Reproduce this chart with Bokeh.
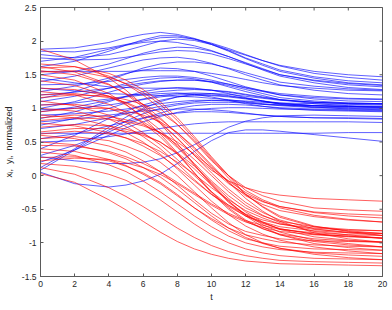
import math
from bokeh.plotting import figure
from bokeh.models import ColumnDataSource, FixedTicker, Range1d
from bokeh.embed import file_html
from bokeh.resources import INLINE

t_grid = [0, 2, 4, 5, 6, 7, 8, 9, 10, 11, 12, 13, 14, 16, 18, 20]

# blue trajectories (x_i, normalized)
blue_curves = [
    [1.88, 1.90, 1.98, 2.05, 2.10, 2.13, 2.10, 2.04, 1.96, 1.87, 1.79, 1.71, 1.64, 1.55, 1.50, 1.47],
    [1.85, 1.84, 1.90, 1.95, 2.00, 2.05, 2.06, 2.03, 1.97, 1.89, 1.80, 1.71, 1.63, 1.52, 1.46, 1.42],
    [1.80, 1.75, 1.80, 1.86, 1.93, 2.00, 2.03, 2.01, 1.95, 1.86, 1.75, 1.66, 1.57, 1.47, 1.41, 1.38],
    [1.62, 1.70, 1.85, 1.94, 2.02, 2.08, 2.08, 2.03, 1.95, 1.85, 1.74, 1.64, 1.55, 1.45, 1.38, 1.35],
    [1.75, 1.72, 1.73, 1.76, 1.80, 1.84, 1.86, 1.85, 1.81, 1.74, 1.66, 1.58, 1.50, 1.41, 1.35, 1.32],
    [1.50, 1.55, 1.66, 1.74, 1.82, 1.88, 1.91, 1.90, 1.85, 1.77, 1.67, 1.57, 1.48, 1.38, 1.31, 1.28],
    [1.55, 1.55, 1.55, 1.55, 1.56, 1.56, 1.56, 1.55, 1.52, 1.48, 1.43, 1.38, 1.34, 1.30, 1.27, 1.26],
    [1.40, 1.48, 1.60, 1.66, 1.72, 1.75, 1.76, 1.73, 1.67, 1.59, 1.50, 1.42, 1.35, 1.27, 1.22, 1.20],
    [1.35, 1.36, 1.40, 1.43, 1.46, 1.48, 1.48, 1.46, 1.42, 1.36, 1.30, 1.25, 1.20, 1.16, 1.14, 1.13],
    [1.25, 1.33, 1.45, 1.52, 1.57, 1.60, 1.59, 1.55, 1.48, 1.40, 1.32, 1.26, 1.20, 1.14, 1.11, 1.10],
    [1.45, 1.38, 1.32, 1.31, 1.30, 1.30, 1.30, 1.29, 1.27, 1.24, 1.20, 1.16, 1.13, 1.09, 1.07, 1.06],
    [1.20, 1.24, 1.30, 1.34, 1.38, 1.41, 1.42, 1.42, 1.40, 1.36, 1.31, 1.26, 1.22, 1.18, 1.15, 1.14],
    [1.10, 1.18, 1.30, 1.37, 1.42, 1.45, 1.46, 1.44, 1.39, 1.32, 1.25, 1.19, 1.13, 1.07, 1.04, 1.03],
    [1.05, 1.08, 1.14, 1.18, 1.22, 1.25, 1.27, 1.28, 1.27, 1.25, 1.21, 1.17, 1.13, 1.09, 1.07, 1.07],
    [1.00, 1.10, 1.24, 1.31, 1.36, 1.40, 1.42, 1.42, 1.39, 1.34, 1.28, 1.22, 1.16, 1.11, 1.08, 1.07],
    [0.98, 1.00, 1.05, 1.09, 1.13, 1.17, 1.20, 1.21, 1.20, 1.18, 1.15, 1.11, 1.08, 1.04, 1.02, 1.01],
    [0.95, 1.02, 1.12, 1.17, 1.20, 1.22, 1.23, 1.21, 1.17, 1.12, 1.07, 1.03, 1.00, 0.97, 0.96, 0.95],
    [0.90, 0.92, 0.96, 0.99, 1.03, 1.07, 1.10, 1.12, 1.12, 1.11, 1.09, 1.06, 1.04, 1.01, 1.00, 0.99],
    [0.85, 0.95, 1.10, 1.18, 1.25, 1.29, 1.31, 1.30, 1.27, 1.22, 1.16, 1.11, 1.06, 1.02, 0.99, 0.98],
    [0.80, 0.84, 0.90, 0.93, 0.96, 0.98, 0.99, 0.99, 0.98, 0.96, 0.93, 0.90, 0.88, 0.86, 0.86, 0.85],
    [0.75, 0.85, 1.00, 1.08, 1.14, 1.19, 1.22, 1.23, 1.22, 1.19, 1.15, 1.11, 1.07, 1.04, 1.03, 1.02],
    [0.63, 0.63, 0.63, 0.63, 0.63, 0.63, 0.63, 0.63, 0.63, 0.63, 0.63, 0.63, 0.63, 0.63, 0.64, 0.64],
    [0.55, 0.62, 0.74, 0.80, 0.86, 0.90, 0.93, 0.95, 0.95, 0.94, 0.92, 0.90, 0.88, 0.86, 0.85, 0.84],
    [0.40, 0.60, 0.85, 0.96, 1.05, 1.12, 1.17, 1.19, 1.19, 1.17, 1.14, 1.10, 1.07, 1.04, 1.03, 1.02],
    [0.30, 0.45, 0.65, 0.76, 0.85, 0.93, 1.00, 1.04, 1.06, 1.06, 1.05, 1.03, 1.01, 0.99, 0.98, 0.97],
    [0.08, 0.38, 0.68, 0.81, 0.92, 1.00, 1.05, 1.08, 1.09, 1.09, 1.08, 1.06, 1.05, 1.04, 1.03, 1.02],
    [0.12, 0.40, 0.72, 0.87, 1.00, 1.10, 1.17, 1.21, 1.22, 1.21, 1.18, 1.15, 1.12, 1.09, 1.08, 1.07],
    [0.20, 0.38, 0.60, 0.71, 0.80, 0.88, 0.94, 0.98, 1.00, 1.01, 1.01, 1.00, 0.99, 0.98, 0.97, 0.96],
    [0.28, 0.22, 0.18, 0.18, 0.20, 0.25, 0.34, 0.46, 0.59, 0.72, 0.81, 0.86, 0.89, 0.90, 0.89, 0.88],
    [0.05, -0.12, -0.17, -0.14, -0.08, 0.02, 0.18, 0.36, 0.52, 0.64, 0.68, 0.68, 0.66, 0.61, 0.56, 0.51],
    [1.30, 1.26, 1.22, 1.21, 1.20, 1.19, 1.18, 1.17, 1.15, 1.13, 1.10, 1.07, 1.05, 1.02, 1.01, 1.00],
    [0.70, 0.76, 0.86, 0.92, 0.98, 1.03, 1.07, 1.10, 1.12, 1.12, 1.11, 1.09, 1.08, 1.07, 1.06, 1.05],
    [1.15, 1.25, 1.42, 1.51, 1.60, 1.66, 1.69, 1.69, 1.66, 1.60, 1.53, 1.46, 1.39, 1.33, 1.29, 1.27],
    [0.50, 0.52, 0.58, 0.62, 0.66, 0.70, 0.74, 0.77, 0.79, 0.80, 0.80, 0.80, 0.80, 0.80, 0.80, 0.79],
    [1.70, 1.76, 1.88, 1.94, 1.98, 2.00, 1.98, 1.93, 1.86, 1.77, 1.68, 1.59, 1.50, 1.42, 1.37, 1.34],
]

# red trajectories (y_i, normalized)
red_curves = [
    [1.88, 1.72, 1.45, 1.27, 1.05, 0.80, 0.55, 0.30, 0.08, -0.08, -0.18, -0.25, -0.29, -0.34, -0.36, -0.38],
    [1.66, 1.62, 1.48, 1.36, 1.20, 1.00, 0.76, 0.50, 0.22, 0.00, -0.18, -0.30, -0.38, -0.48, -0.51, -0.53],
    [1.56, 1.50, 1.35, 1.22, 1.06, 0.86, 0.62, 0.36, 0.10, -0.12, -0.28, -0.39, -0.46, -0.54, -0.57, -0.59],
    [1.54, 1.56, 1.46, 1.37, 1.24, 1.06, 0.82, 0.55, 0.26, 0.00, -0.22, -0.36, -0.46, -0.55, -0.60, -0.63],
    [0.82, 0.86, 0.84, 0.80, 0.74, 0.64, 0.50, 0.32, 0.12, -0.08, -0.25, -0.38, -0.48, -0.59, -0.65, -0.69],
    [1.41, 1.34, 1.18, 1.05, 0.88, 0.68, 0.44, 0.18, -0.08, -0.30, -0.48, -0.60, -0.68, -0.76, -0.80, -0.82],
    [1.60, 1.62, 1.52, 1.42, 1.28, 1.10, 0.86, 0.58, 0.28, 0.00, -0.28, -0.47, -0.62, -0.76, -0.82, -0.86],
    [1.00, 0.96, 0.84, 0.73, 0.58, 0.40, 0.18, -0.06, -0.28, -0.46, -0.60, -0.69, -0.76, -0.82, -0.85, -0.86],
    [0.62, 0.66, 0.62, 0.56, 0.48, 0.36, 0.20, 0.02, -0.18, -0.36, -0.52, -0.63, -0.72, -0.80, -0.84, -0.86],
    [1.30, 1.28, 1.18, 1.08, 0.95, 0.78, 0.56, 0.30, 0.04, -0.20, -0.40, -0.55, -0.66, -0.79, -0.85, -0.89],
    [0.45, 0.44, 0.36, 0.28, 0.18, 0.06, -0.10, -0.26, -0.42, -0.56, -0.67, -0.74, -0.80, -0.85, -0.88, -0.89],
    [1.16, 1.20, 1.18, 1.13, 1.06, 0.94, 0.76, 0.52, 0.24, -0.04, -0.28, -0.46, -0.60, -0.75, -0.83, -0.89],
    [1.11, 1.04, 0.90, 0.79, 0.64, 0.46, 0.24, 0.00, -0.24, -0.44, -0.60, -0.71, -0.79, -0.87, -0.90, -0.93],
    [0.86, 0.90, 0.88, 0.83, 0.76, 0.64, 0.46, 0.24, 0.00, -0.24, -0.44, -0.59, -0.70, -0.83, -0.88, -0.93],
    [1.62, 1.54, 1.36, 1.21, 1.02, 0.78, 0.48, 0.16, -0.14, -0.40, -0.58, -0.70, -0.79, -0.87, -0.90, -0.93],
    [0.60, 0.55, 0.44, 0.35, 0.22, 0.06, -0.14, -0.36, -0.56, -0.72, -0.83, -0.89, -0.94, -0.97, -0.98, -0.99],
    [1.50, 1.42, 1.22, 1.06, 0.86, 0.62, 0.34, 0.04, -0.26, -0.50, -0.68, -0.79, -0.87, -0.94, -0.97, -0.99],
    [0.95, 1.00, 1.00, 0.96, 0.90, 0.80, 0.64, 0.42, 0.16, -0.10, -0.34, -0.53, -0.68, -0.85, -0.94, -0.99],
    [0.40, 0.36, 0.24, 0.15, 0.02, -0.12, -0.30, -0.48, -0.64, -0.78, -0.88, -0.94, -0.99, -1.03, -1.05, -1.06],
    [1.25, 1.20, 1.06, 0.94, 0.78, 0.58, 0.32, 0.04, -0.24, -0.48, -0.66, -0.79, -0.88, -0.98, -1.03, -1.06],
    [0.72, 0.76, 0.74, 0.69, 0.62, 0.50, 0.32, 0.10, -0.14, -0.38, -0.58, -0.73, -0.84, -0.96, -1.01, -1.06],
    [0.27, 0.28, 0.22, 0.14, 0.04, -0.10, -0.28, -0.48, -0.66, -0.82, -0.94, -1.00, -1.05, -1.09, -1.10, -1.11],
    [1.05, 1.06, 1.00, 0.91, 0.80, 0.64, 0.42, 0.16, -0.12, -0.38, -0.60, -0.76, -0.88, -1.01, -1.07, -1.11],
    [0.35, 0.30, 0.16, 0.06, -0.08, -0.24, -0.42, -0.60, -0.76, -0.90, -1.00, -1.06, -1.10, -1.14, -1.15, -1.16],
    [0.90, 0.86, 0.74, 0.64, 0.50, 0.32, 0.10, -0.14, -0.38, -0.58, -0.75, -0.87, -0.96, -1.06, -1.12, -1.16],
    [0.18, 0.14, 0.02, -0.07, -0.20, -0.36, -0.54, -0.72, -0.88, -1.00, -1.09, -1.15, -1.19, -1.23, -1.24, -1.25],
    [0.55, 0.58, 0.52, 0.44, 0.34, 0.20, 0.00, -0.24, -0.48, -0.70, -0.88, -1.00, -1.08, -1.17, -1.22, -1.25],
    [0.12, 0.02, -0.18, -0.31, -0.46, -0.62, -0.78, -0.92, -1.04, -1.13, -1.19, -1.23, -1.26, -1.28, -1.29, -1.30],
    [0.03, -0.10, -0.36, -0.51, -0.68, -0.84, -0.98, -1.09, -1.17, -1.23, -1.27, -1.29, -1.31, -1.32, -1.33, -1.34],
    [0.78, 0.74, 0.64, 0.56, 0.44, 0.30, 0.12, -0.08, -0.28, -0.44, -0.57, -0.66, -0.72, -0.78, -0.81, -0.82],
    [1.20, 1.22, 1.16, 1.09, 0.98, 0.84, 0.64, 0.40, 0.14, -0.10, -0.30, -0.43, -0.52, -0.61, -0.66, -0.69],
    [0.65, 0.70, 0.70, 0.66, 0.60, 0.50, 0.34, 0.14, -0.10, -0.34, -0.54, -0.69, -0.80, -0.91, -0.96, -0.99],
    [0.22, 0.26, 0.24, 0.19, 0.12, 0.02, -0.12, -0.28, -0.44, -0.58, -0.69, -0.77, -0.83, -0.88, -0.91, -0.93],
    [0.50, 0.46, 0.34, 0.25, 0.12, -0.02, -0.20, -0.40, -0.60, -0.78, -0.92, -1.01, -1.08, -1.15, -1.18, -1.20],
]

x_ticks = [0, 2, 4, 6, 8, 10, 12, 14, 16, 18, 20]
x_tick_labels = ["0", "2", "4", "6", "8", "10", "12", "14", "16", "18", "20"]
y_ticks = [-1.5, -1, -0.5, 0, 0.5, 1, 1.5, 2, 2.5]
y_tick_labels = ["-1.5", "-1", "-0.5", "0", "0.5", "1", "1.5", "2", "2.5"]

x_min, x_max = 0, 20
y_min, y_max = -1.5, 2.5

x_label = "t"
y_label = "x\u1d62,\u00a0 y\u1d62,\u00a0 normalized"

for c in blue_curves + red_curves:
    assert len(c) == len(t_grid)

FONT = "Liberation Sans"
TXT = "#262626"
AX = "#5a5a5a"
TICK_LEN = 3

p = figure(width=390, height=308,
           x_range=Range1d(x_min, x_max), y_range=Range1d(y_min, y_max),
           output_backend="svg", toolbar_location=None,
           min_border_left=39, min_border_right=8,
           min_border_top=7, min_border_bottom=32)
p.xgrid.visible = False
p.ygrid.visible = False
p.outline_line_color = AX
p.outline_line_width = 1
p.background_fill_color = "white"
p.border_fill_color = "white"

blue_src = ColumnDataSource(dict(xs=[t_grid] * len(blue_curves), ys=blue_curves))
red_src = ColumnDataSource(dict(xs=[t_grid] * len(red_curves), ys=red_curves))
p.multi_line("xs", "ys", source=blue_src, line_color="blue", line_width=0.7, line_alpha=0.9)
p.multi_line("xs", "ys", source=red_src, line_color="red", line_width=0.7, line_alpha=0.9)

# mirrored inward ticks on the top and right edges of the box
p.scatter(x=x_ticks, y=[y_max] * len(x_ticks), marker="dash", angle=math.pi / 2,
          size=2 * TICK_LEN, line_color=AX, line_width=1)
p.scatter(x=[x_max] * len(y_ticks), y=y_ticks, marker="dash",
          size=2 * TICK_LEN, line_color=AX, line_width=1)

for ax, ticks, labels in ((p.xaxis[0], x_ticks, x_tick_labels),
                          (p.yaxis[0], y_ticks, y_tick_labels)):
    ax.ticker = FixedTicker(ticks=ticks)
    ax.major_label_overrides = {v: s for v, s in zip(ticks, labels)}
    ax.minor_tick_line_color = None
    ax.major_tick_in = TICK_LEN
    ax.major_tick_out = 0
    ax.axis_line_color = AX
    ax.major_tick_line_color = AX
    ax.major_label_text_font = FONT
    ax.major_label_text_font_size = "8.5px"
    ax.major_label_text_color = TXT
    ax.axis_label_text_font = FONT
    ax.axis_label_text_font_size = "9px"
    ax.axis_label_text_font_style = "normal"
    ax.axis_label_text_color = TXT

p.xaxis[0].axis_label = x_label
p.yaxis[0].axis_label = y_label
p.xaxis[0].major_label_standoff = 4
p.xaxis[0].axis_label_standoff = 2
p.yaxis[0].major_label_standoff = 4
p.yaxis[0].axis_label_standoff = 5

open("out.html", "w").write(file_html(p, INLINE))
